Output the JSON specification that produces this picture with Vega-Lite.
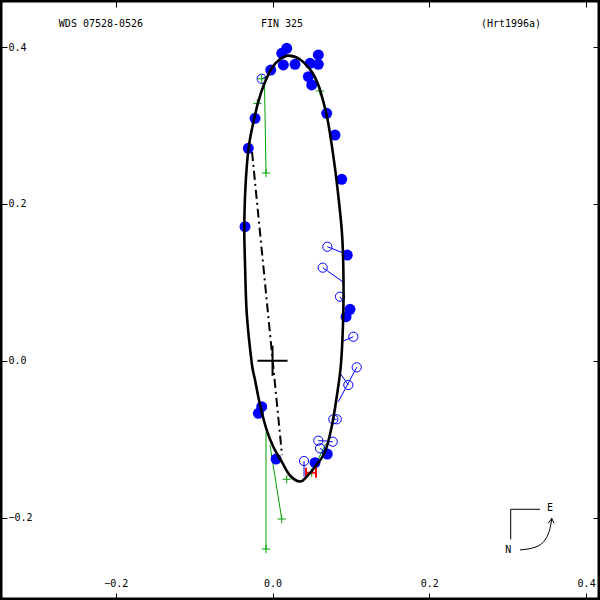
{
  "$schema": "https://vega.github.io/schema/vega-lite/v6.json",
  "width": 600,
  "height": 600,
  "autosize": "none",
  "padding": 0,
  "background": "white",
  "config": {
    "view": {"stroke": "black", "strokeWidth": 5},
    "text": {"font": "DejaVu Sans Mono", "fontSize": 10, "color": "black"}
  },
  "datasets": {
    "ellipse": [
      {"o":1,"x":0.0202,"y":0.3892},{"o":2,"x":0.0351,"y":0.3843},{"o":3,"x":0.0500,"y":0.3688},{"o":4,"x":0.0584,"y":0.3518},
      {"o":5,"x":0.0648,"y":0.3305},{"o":6,"x":0.0699,"y":0.3093},{"o":7,"x":0.0749,"y":0.2795},{"o":8,"x":0.0816,"y":0.2306},
      {"o":9,"x":0.0883,"y":0.1668},{"o":10,"x":0.0903,"y":0.1200},{"o":11,"x":0.0903,"y":0.0610},{"o":12,"x":0.0874,"y":-0.0028},
      {"o":13,"x":0.0819,"y":-0.0458},{"o":14,"x":0.0755,"y":-0.0841},{"o":15,"x":0.0670,"y":-0.1159},{"o":16,"x":0.0542,"y":-0.1351},
      {"o":17,"x":0.0436,"y":-0.1478},{"o":18,"x":0.0351,"y":-0.1540},{"o":19,"x":0.0223,"y":-0.1463},{"o":20,"x":0.0117,"y":-0.1287},
      {"o":21,"x":0.0010,"y":-0.1096},{"o":22,"x":-0.0074,"y":-0.0883},{"o":23,"x":-0.0159,"y":-0.0564},{"o":24,"x":-0.0223,"y":-0.0245},
      {"o":25,"x":-0.0265,"y":-0.0028},{"o":26,"x":-0.0329,"y":0.0610},{"o":27,"x":-0.0351,"y":0.1247},{"o":28,"x":-0.0360,"y":0.1668},
      {"o":29,"x":-0.0351,"y":0.2093},{"o":30,"x":-0.0325,"y":0.2523},{"o":31,"x":-0.0293,"y":0.2795},{"o":32,"x":-0.0242,"y":0.3050},
      {"o":33,"x":-0.0181,"y":0.3305},{"o":34,"x":-0.0111,"y":0.3518},{"o":35,"x":-0.0010,"y":0.3731},{"o":36,"x":0.0083,"y":0.3837}
    ],
    "nodes": [{"x":-0.0261,"y":0.2663,"x2":0.0121,"y2":-0.1202}],
    "filled": [
      {"x":0.0181,"y":0.3986},{"x":0.0117,"y":0.3922},{"x":0.0138,"y":0.3773},{"x":0.0287,"y":0.3782},
      {"x":0.0478,"y":0.3795},{"x":0.0584,"y":0.3901},{"x":0.0584,"y":0.3782},{"x":0.0457,"y":0.3624},
      {"x":0.0500,"y":0.3518},{"x":-0.0023,"y":0.3709},{"x":0.0691,"y":0.3157},{"x":0.0797,"y":0.2880},
      {"x":-0.0223,"y":0.3093},{"x":-0.0309,"y":0.2710},{"x":0.0883,"y":0.2315},{"x":-0.0351,"y":0.1710},
      {"x":0.0954,"y":0.1349},{"x":0.0989,"y":0.0657},{"x":0.0938,"y":0.0563},{"x":-0.0138,"y":-0.0585},
      {"x":-0.0181,"y":-0.0670},{"x":0.0045,"y":-0.1253},{"x":0.0542,"y":-0.1300},{"x":0.0699,"y":-0.1189}
    ],
    "open": [
      {"x":-0.0138,"y":0.3597,"x2":-0.0085,"y2":0.3620},
      {"x":0.0699,"y":0.1455,"x2":0.0938,"y2":0.1362},
      {"x":0.0640,"y":0.1188,"x2":0.0895,"y2":0.1009},
      {"x":0.0861,"y":0.0818,"x2":0.0903,"y2":0.0754},
      {"x":0.1031,"y":0.0307,"x2":0.0903,"y2":0.0253},
      {"x":0.1074,"y":-0.0083,"x2":0.0839,"y2":-0.0522},
      {"x":0.0967,"y":-0.0309,"x2":0.0861,"y2":-0.0159},
      {"x":0.0776,"y":-0.0746,"x2":0.0785,"y2":-0.0730},
      {"x":0.0819,"y":-0.0746,"x2":0.0785,"y2":-0.0746},
      {"x":0.0584,"y":-0.1019,"x2":0.0695,"y2":-0.1023},
      {"x":0.0606,"y":-0.1116,"x2":0.0657,"y2":-0.1151},
      {"x":0.0768,"y":-0.1032,"x2":0.0695,"y2":-0.1032},
      {"x":0.0402,"y":-0.1278,"x2":0.0402,"y2":-0.1478}
    ],
    "green": [
      {"x":-0.0083,"y":0.2395,"x2":-0.0102,"y2":0.3531},
      {"x":-0.0083,"y":-0.2401,"x2":-0.0083,"y2":-0.0908},
      {"x":0.0117,"y":-0.2018,"x2":-0.0032,"y2":-0.1074},
      {"x":0.0500,"y":-0.1426,"x2":0.0676,"y2":-0.1064},
      {"x":-0.0194,"y":0.3284,"x2":-0.0194,"y2":0.3284},
      {"x":0.0606,"y":0.3441,"x2":0.0606,"y2":0.3441},
      {"x":0.0181,"y":-0.1511,"x2":0.0181,"y2":-0.1511},
      {"x":-0.0138,"y":0.3597,"x2":-0.0138,"y2":0.3597}
    ],
    "hip": [{"x":0.0491,"y":-0.1427}],
    "origin": [{"x":0,"y":0}],
    "compass": [
      {"g":"a","o":1,"x":0.3412,"y":-0.1894},{"g":"a","o":2,"x":0.3038,"y":-0.1894},{"g":"a","o":3,"x":0.3038,"y":-0.2277},
      {"g":"h","o":1,"x":0.3518,"y":-0.2073},{"g":"h","o":2,"x":0.3561,"y":-0.2009},{"g":"h","o":3,"x":0.3591,"y":-0.2073}
    ],
    "curve": [
      {"o":1,"x":0.3157,"y":-0.2413},{"o":2,"x":0.3348,"y":-0.2379},{"o":3,"x":0.3476,"y":-0.2286},
      {"o":4,"x":0.3540,"y":-0.2136},{"o":5,"x":0.3561,"y":-0.2009}
    ],
    "labels": [
      {"x":-0.2188,"y":0.4296,"t":"WDS 07528-0526"},
      {"x":0.0121,"y":0.4296,"t":"FIN 325"},
      {"x":0.3042,"y":0.4296,"t":"(Hrt1996a)"},
      {"x":0.3540,"y":-0.1881,"t":"E"},
      {"x":0.3008,"y":-0.2413,"t":"N"}
    ]
  },
  "layer": [
    {
      "encoding": {
        "x": {"field": "x", "type": "quantitative",
              "scale": {"domain": [-0.3476, 0.4177], "nice": false, "zero": false},
              "axis": {"orient": "bottom", "values": [-0.2, 0, 0.2, 0.4], "format": ".1f", "title": null,
                       "grid": false, "domain": false, "tickSize": -7, "tickColor": "black", "tickWidth": 1,
                       "labelPadding": -10, "labelBaseline": "middle", "labelFont": "DejaVu Sans Mono",
                       "labelFontSize": 10, "labelColor": "black", "labelFlush": false, "labelOverlap": false, "labelBound": false}},
        "y": {"field": "y", "type": "quantitative",
              "scale": {"domain": [-0.3051, 0.4602], "nice": false, "zero": false},
              "axis": {"orient": "left", "values": [-0.2, 0, 0.2, 0.4], "format": ".1f", "title": null,
                       "grid": false, "domain": false, "tickSize": -7, "tickColor": "black", "tickWidth": 1,
                       "labelPadding": -1, "labelAlign": "left", "labelBaseline": "middle", "labelFont": "DejaVu Sans Mono",
                       "labelFontSize": 10, "labelColor": "black", "labelFlush": false, "labelOverlap": false, "labelBound": false}}
      },
      "layer": [
        {"data": {"name": "green"}, "mark": {"type": "rule", "color": "#00a000", "strokeWidth": 1},
         "encoding": {"x2": {"field": "x2"}, "y2": {"field": "y2"}}},
        {"data": {"name": "open"}, "mark": {"type": "rule", "color": "#0000ff", "strokeWidth": 1},
         "encoding": {"x2": {"field": "x2"}, "y2": {"field": "y2"}}},
        {"data": {"name": "filled"}, "mark": {"type": "point", "shape": "circle", "filled": true, "color": "#0000ff", "opacity": 1, "size": 120, "strokeWidth": 0}},
        {"data": {"name": "open"}, "mark": {"type": "point", "shape": "circle", "filled": false, "color": "#0000ff", "opacity": 1, "size": 85, "strokeWidth": 1}},
        {"data": {"name": "green"}, "mark": {"type": "point", "shape": "M-1,0L1,0M0,-1L0,1", "filled": false, "color": "#00a000", "opacity": 1, "size": 70, "strokeWidth": 1}},
        {"data": {"name": "hip"}, "mark": {"type": "point", "shape": "M-1,-1L-1,1M1,-1L1,1M-1,0L1,0", "filled": false, "color": "#ff0000", "opacity": 1, "size": 100, "strokeWidth": 2}},
        {"data": {"name": "nodes"}, "mark": {"type": "rule", "color": "black", "strokeWidth": 2, "strokeDash": [9, 4, 2, 4]},
         "encoding": {"x2": {"field": "x2"}, "y2": {"field": "y2"}}},
        {"data": {"name": "ellipse"}, "mark": {"type": "line", "color": "black", "strokeWidth": 2.6, "interpolate": "cardinal-closed"},
         "encoding": {"order": {"field": "o", "type": "quantitative"}}},
        {"data": {"name": "origin"}, "mark": {"type": "point", "shape": "M-1,0L1,0M0,-1L0,1", "filled": false, "color": "black", "opacity": 1, "size": 900, "strokeWidth": 2}},
        {"data": {"name": "compass"}, "mark": {"type": "line", "color": "black", "strokeWidth": 1},
         "encoding": {"detail": {"field": "g"}, "order": {"field": "o", "type": "quantitative"}}},
        {"data": {"name": "curve"}, "mark": {"type": "line", "color": "black", "strokeWidth": 1, "interpolate": "natural"},
         "encoding": {"order": {"field": "o", "type": "quantitative"}}},
        {"data": {"name": "labels"}, "mark": {"type": "text", "align": "center", "baseline": "middle", "font": "DejaVu Sans Mono", "fontSize": 10, "color": "black"},
         "encoding": {"text": {"field": "t"}}}
      ]
    },
    {
      "data": {"name": "origin"},
      "mark": {"type": "point", "opacity": 0},
      "encoding": {
        "x": {"field": "x", "type": "quantitative",
              "scale": {"domain": [-0.3476, 0.4177], "nice": false, "zero": false},
              "axis": {"orient": "top", "values": [-0.2, 0, 0.2, 0.4], "title": null, "labels": false,
                       "grid": false, "domain": false, "tickSize": -7, "tickColor": "black", "tickWidth": 1}},
        "y": {"field": "y", "type": "quantitative",
              "scale": {"domain": [-0.3051, 0.4602], "nice": false, "zero": false},
              "axis": {"orient": "right", "values": [-0.2, 0, 0.2, 0.4], "title": null, "labels": false,
                       "grid": false, "domain": false, "tickSize": -7, "tickColor": "black", "tickWidth": 1}}
      }
    }
  ],
  "resolve": {"scale": {"x": "independent", "y": "independent"}, "axis": {"x": "independent", "y": "independent"}}
}
